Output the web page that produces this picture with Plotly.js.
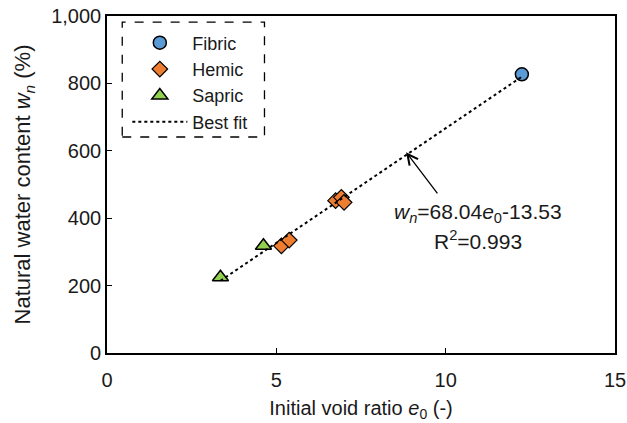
<!DOCTYPE html>
<html>
<head>
<meta charset="utf-8">
<script src="https://cdn.plot.ly/plotly-3.0.1.min.js"></script>
<style>html,body{margin:0;padding:0;background:#fff;}#chart{width:627px;height:423px;}</style>
</head>
<body>
<div id="chart"></div>
<script>
// Data
const fibricE = [12.25];
const fibricW = [827];
const hemicE = [5.15, 5.38, 6.75, 6.92, 7.0];
const hemicW = [318, 335, 452, 462, 447];
const sapricE = [3.35, 4.62];
const sapricW = [225, 318];
const fitSlope = 68.04;
const fitIntercept = -13.53;
const fitRange = [3.35, 12.25];
const fitW = fitRange.map(e => fitSlope * e + fitIntercept);

const font = 'Liberation Sans, Arial, sans-serif';
const txt = '#1a1a1a';

const traces = [
  {x: fibricE, y: fibricW, name: 'Fibric', mode: 'markers', type: 'scatter',
   marker: {symbol: 'circle', size: 13, color: '#5B9BD5', line: {color: '#000', width: 1.5}}},
  {x: hemicE, y: hemicW, name: 'Hemic', mode: 'markers', type: 'scatter',
   marker: {symbol: 'diamond', size: 12, color: '#ED7D31', line: {color: '#000', width: 1.2}}},
  {x: sapricE, y: sapricW, name: 'Sapric', mode: 'markers', type: 'scatter',
   marker: {symbol: 'triangle-up', size: 14, color: '#92D050', line: {color: '#000', width: 1.5}}},
  {x: fitRange, y: fitW, name: 'Best fit', mode: 'lines', type: 'scatter',
   line: {color: '#000', width: 2, dash: 'dot'}}
];

const layout = {
  width: 627, height: 423,
  margin: {l: 107, r: 12, t: 16, b: 70},
  paper_bgcolor: '#fff', plot_bgcolor: '#fff',
  font: {family: font, size: 18, color: txt},
  showlegend: true,
  legend: {x: 0.04, y: 0.975, xanchor: 'left', yanchor: 'top', bgcolor: 'rgba(0,0,0,0)',
           borderwidth: 0, font: {family: font, size: 18, color: txt}, tracegroupgap: 0,
           itemwidth: 55},
  xaxis: {range: [0, 15], tickvals: [0, 5, 10, 15], ticks: 'inside', ticklen: 5, tickwidth: 1.3,
          tickcolor: '#000', showline: true, linecolor: '#000', linewidth: 1.8, mirror: true,
          showgrid: false, zeroline: false, tickfont: {size: 20, color: txt}, ticklabeloverflow: 'allow',
          ticklabelstandoff: 8,
          title: {text: 'Initial void ratio <i>e</i><sub>0</sub> (-)', font: {size: 20, color: txt}, standoff: 11}},
  yaxis: {range: [0, 1000], tickvals: [0, 200, 400, 600, 800, 1000], ticktext: ['0','200','400','600','800','1,000'],
          ticks: 'inside', ticklen: 5, tickwidth: 1.3, tickcolor: '#000', showline: true, linecolor: '#000',
          linewidth: 1.8, mirror: true, showgrid: false, zeroline: false, tickfont: {size: 20, color: txt},
          ticklabeloverflow: 'allow',
          title: {text: 'Natural water content <i>w<sub>n</sub></i> (%)', font: {size: 22, color: txt}, standoff: 14}},
  shapes: [
    {type: 'rect', xref: 'paper', yref: 'paper', x0: 0.03, x1: 0.31, y0: 0.641, y1: 0.982,
     line: {color: '#000', width: 1.3, dash: 'dash'}, fillcolor: 'rgba(0,0,0,0)'}
  ],
  annotations: [
    {x: 8.83, y: 596, ax: 9.79, ay: 469, xref: 'x', yref: 'y', axref: 'x', ayref: 'y',
     text: '', showarrow: true, arrowhead: 5, arrowsize: 1.6, arrowwidth: 1.3, arrowcolor: '#000'},
    {x: 10.95, y: 415, xref: 'x', yref: 'y', showarrow: false,
     text: '<i>w<sub>n</sub></i>=68.04<i>e</i><sub>0</sub>-13.53', font: {family: font, size: 21, color: txt}},
    {x: 10.95, y: 335, xref: 'x', yref: 'y', showarrow: false,
     text: 'R<sup>2</sup>=0.993', font: {family: font, size: 21, color: txt}}
  ]
};

Plotly.newPlot('chart', traces, layout, {displayModeBar: false, staticPlot: true});
</script>
</body>
</html>
